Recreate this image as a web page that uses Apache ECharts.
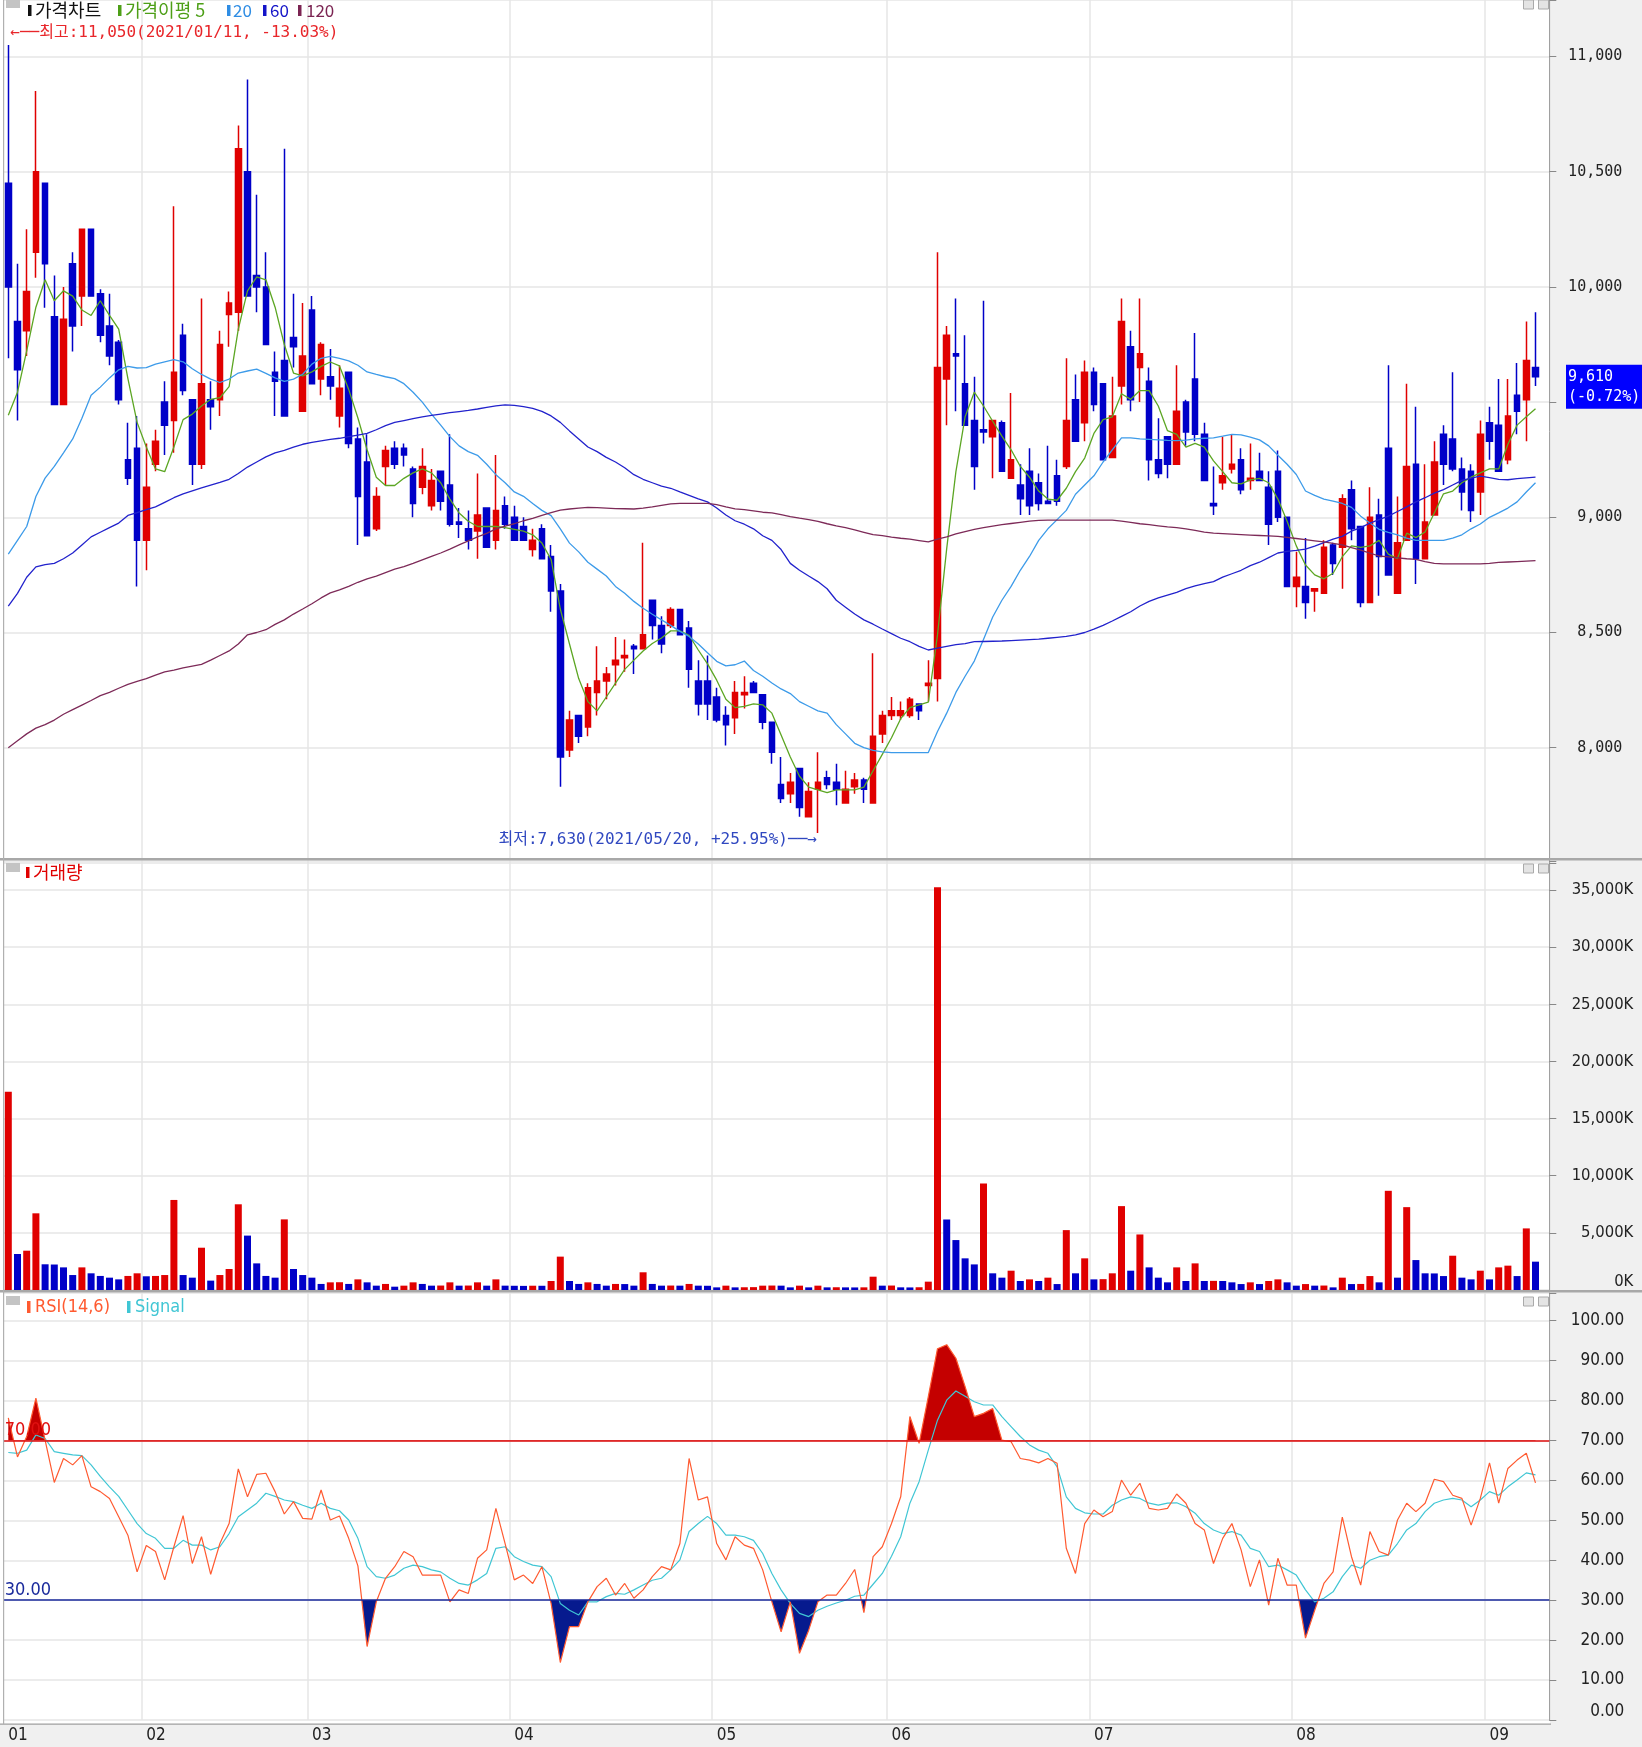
<!DOCTYPE html>
<html>
<head>
<meta charset="utf-8">
<title>가격차트</title>
<script src="https://cdn.jsdelivr.net/npm/echarts@6/dist/echarts.min.js"></script>
<style>
html,body{margin:0;padding:0;background:#fff;}
#c{width:1642px;height:1747px;
background:
 linear-gradient(#f0f0f0,#f0f0f0) 0 1724px/1642px 23px no-repeat,
 linear-gradient(to right,#ffffff 0,#ffffff 1550px,#f0f0f0 1550px) 0 0/1642px 1747px no-repeat;}
</style>
</head>
<body>
<div id="c"></div>
<script>
// ---- trading days (2021) ----
const monthDays = [
 ['01',[11,12,13,14,15,18,19,20,21,22,25,26,27,28,29]],
 ['02',[1,2,3,4,5,8,9,10,15,16,17,18,19,22,23,24,25,26]],
 ['03',[2,3,4,5,8,9,10,11,12,15,16,17,18,19,22,23,24,25,26,29,30,31]],
 ['04',[1,2,5,6,7,8,9,12,13,14,15,16,19,20,21,22,23,26,27,28,29,30]],
 ['05',[3,4,6,7,10,11,12,13,14,17,18,20,21,24,25,26,27,28,31]],
 ['06',[1,2,3,4,7,8,9,10,11,14,15,16,17,18,21,22,23,24,25,28,29,30]],
 ['07',[1,2,5,6,7,8,9,12,13,14,15,16,19,20,21,22,23,26,27,28,29,30]],
 ['08',[2,3,4,5,6,9,10,11,12,13,17,18,19,20,23,24,25,26,27,30,31]],
 ['09',[1,2,3,6,7,8]]
];

// ---- OHLC ----
const open = [10450,9850,9810,10150,10450,9870,9490,10100,9960,10250,
9970,9830,9760,9250,9300,8900,9230,9500,9420,9790,
9510,9230,9510,9510,9880,9890,10500,10050,10000,9630,
9680,9780,9460,9900,9600,9610,9440,9630,9340,9240,
8950,9220,9300,9300,9210,9130,9050,9200,9140,8980,
8950,8940,9040,8900,9050,9000,8960,8860,8950,8830,
8680,7990,8140,8090,8240,8290,8360,8390,8440,8430,
8640,8530,8530,8600,8520,8290,8290,8220,8140,8130,
8230,8280,8230,8110,7840,7800,7910,7700,7820,7870,
7850,7760,7830,7860,7760,8060,8140,8140,8140,8190,
8270,8300,9600,9710,9580,9420,9380,9350,9410,9170,
9140,9200,9150,9070,9180,9220,9510,9410,9630,9580,
9260,9570,9740,9650,9590,9250,9350,9230,9500,9600,
9360,9060,9150,9210,9250,9160,9200,9130,9200,9000,
8700,8700,8680,8670,8880,8870,9120,8960,8630,9010,
9300,8670,8900,9230,8820,9010,9360,9340,9210,9200,
9110,9410,9400,9250,9530,9510,9650];
const high = [11050,10100,10250,10850,10450,10050,10000,10150,10250,10250,
9990,9970,9770,9410,9440,9320,9380,9590,10350,9840,
9510,9950,9590,9810,9980,10700,10900,10400,10150,9720,
10600,9970,9930,9960,9760,9730,9660,9630,9390,9360,
9130,9310,9330,9320,9220,9300,9210,9200,9360,9040,
9030,9190,9040,9270,9090,9050,9000,8950,8970,8880,
8710,8160,8140,8280,8440,8350,8480,8470,8450,8890,
8640,8570,8610,8600,8550,8380,8400,8260,8180,8290,
8310,8290,8230,8110,7960,7890,7910,7850,7980,7900,
7930,7900,7890,7870,8410,8160,8220,8200,8220,8190,
8380,10150,9830,9950,9790,9610,9940,9420,9420,9540,
9230,9300,9190,9310,9250,9690,9620,9680,9650,9580,
9610,9950,9810,9950,9650,9430,9350,9660,9510,9800,
9410,9220,9350,9360,9300,9320,9280,9200,9290,9000,
8850,8910,8690,8900,8890,9100,9160,8960,9130,9080,
9660,9090,9580,9480,9230,9330,9400,9630,9260,9230,
9420,9480,9600,9600,9670,9850,9890];
const low = [9690,9420,9700,10040,9910,9490,9490,9720,9830,9960,
9760,9660,9490,9140,8700,8770,9200,9270,9280,9530,
9140,9210,9380,9440,9740,9810,9960,9890,9750,9440,
9440,9650,9460,9580,9530,9510,9390,9300,8880,8920,
8940,9140,9210,9220,9000,9100,9030,9030,8960,8910,
8860,8820,8870,8860,8950,8900,8900,8830,8820,8590,
7830,7960,8020,8050,8140,8210,8270,8330,8320,8430,
8470,8410,8520,8490,8260,8140,8120,8110,8010,8060,
8170,8240,8080,7930,7760,7760,7700,7700,7630,7820,
7750,7760,7800,7760,7760,8020,8120,8120,8130,8120,
8200,8200,9400,9460,9400,9120,9320,9170,9200,9170,
9010,9010,9030,9060,9050,9210,9330,9330,9460,9250,
9260,9490,9460,9500,9160,9170,9170,9230,9310,9330,
9160,9010,9120,9190,9100,9120,9160,8880,8980,8700,
8610,8560,8590,8670,8750,8690,8900,8610,8630,8660,
8750,8670,8900,8710,8820,9010,9140,9200,9030,8980,
9010,9250,9200,9230,9360,9330,9570];
const close = [10000,9640,9980,10500,10100,9490,9860,9830,10250,9960,
9790,9700,9510,9170,8900,9130,9330,9400,9630,9550,
9230,9580,9480,9750,9930,10600,9960,10000,9750,9590,
9440,9740,9700,9580,9750,9570,9560,9320,9090,8920,
9090,9290,9230,9270,9060,9220,9160,9070,8970,8970,
8900,9010,8870,9030,8970,8900,8900,8900,8820,8680,
7960,8120,8050,8260,8290,8320,8380,8400,8430,8490,
8530,8450,8600,8490,8340,8190,8190,8120,8100,8240,
8240,8240,8110,7980,7780,7850,7740,7810,7850,7840,
7820,7820,7860,7820,8050,8140,8160,8160,8210,8160,
8280,9650,9790,9700,9400,9220,9370,9420,9200,9250,
9080,9050,9060,9060,9070,9420,9330,9630,9490,9250,
9440,9850,9510,9710,9250,9190,9230,9460,9370,9360,
9160,9050,9180,9230,9120,9170,9160,8970,9000,8700,
8740,8630,8690,8870,8800,9080,8950,8630,9000,8830,
8750,8890,9220,8820,8980,9240,9230,9210,9110,9030,
9360,9330,9200,9440,9460,9680,9610];

// ---- moving averages ----
const ma5 = [9443,9543,9722,9912,10031,9940,9983,9960,9900,9876,
9940,9876,9817,9602,9412,9305,9210,9198,9305,9424,
9448,9483,9512,9519,9567,9817,9983,10043,10031,9912,
9750,9626,9614,9631,9655,9674,9657,9555,9431,9293,
9174,9138,9138,9169,9193,9210,9193,9150,9079,9019,
8983,8960,8960,8960,8955,8948,8940,8924,8888,8817,
8602,8450,8300,8200,8160,8220,8280,8340,8380,8420,
8452,8476,8507,8507,8488,8424,8364,8293,8210,8174,
8179,8190,8186,8150,8055,7960,7876,7829,7817,7805,
7817,7817,7817,7829,7900,7971,8043,8126,8174,8186,
8198,8490,8864,9198,9436,9543,9483,9417,9352,9293,
9221,9174,9114,9079,9074,9126,9198,9257,9364,9424,
9436,9536,9512,9550,9550,9483,9376,9360,9305,9321,
9305,9245,9198,9150,9145,9162,9169,9150,9079,8983,
8876,8793,8750,8733,8757,8829,8876,8869,8876,8900,
8840,8821,8931,8912,8936,9019,9102,9114,9150,9174,
9193,9210,9210,9317,9400,9436,9471];
const ma20 = [8840,8900,8960,9090,9170,9221,9280,9340,9430,9530,
9565,9605,9640,9655,9648,9650,9665,9675,9684,9675,
9645,9620,9600,9585,9600,9626,9635,9643,9625,9605,
9590,9600,9621,9665,9690,9698,9690,9679,9660,9631,
9620,9610,9602,9580,9543,9500,9448,9400,9350,9310,
9285,9269,9230,9185,9150,9110,9091,9060,9030,9007,
8950,8888,8850,8805,8775,8745,8700,8670,8635,8605,
8579,8555,8531,8505,8483,8450,8412,8375,8355,8360,
8376,8335,8310,8281,8255,8235,8200,8180,8160,8150,
8100,8060,8019,8000,7988,7982,7979,7979,7979,7979,
7979,8070,8150,8240,8310,8376,8470,8567,8640,8700,
8770,8830,8900,8950,8990,9030,9100,9140,9180,9240,
9293,9345,9345,9340,9338,9336,9334,9333,9335,9340,
9343,9345,9352,9360,9358,9348,9336,9310,9269,9230,
9186,9114,9095,9079,9070,9060,9043,9005,8975,8948,
8935,8924,8910,8900,8900,8900,8900,8910,8924,8950,
8971,9000,9019,9040,9067,9110,9150];
const ma60 = [8614,8670,8740,8785,8795,8800,8820,8845,8880,8915,
8935,8955,8975,9008,9020,9033,9045,9065,9085,9102,
9115,9128,9140,9152,9165,9190,9218,9240,9262,9280,
9290,9305,9317,9325,9332,9338,9343,9350,9357,9364,
9380,9398,9412,9420,9428,9436,9442,9448,9454,9459,
9464,9470,9477,9484,9488,9486,9480,9473,9460,9440,
9412,9375,9340,9305,9285,9260,9240,9215,9185,9165,
9150,9135,9126,9110,9095,9080,9067,9040,9010,8985,
8970,8950,8920,8900,8860,8800,8770,8745,8721,8690,
8640,8610,8580,8555,8536,8515,8495,8475,8460,8440,
8424,8432,8440,8447,8452,8460,8461,8462,8463,8465,
8467,8469,8471,8475,8479,8483,8490,8500,8515,8531,
8550,8570,8590,8615,8635,8650,8662,8674,8690,8702,
8712,8721,8740,8755,8770,8790,8805,8825,8845,8852,
8856,8862,8875,8890,8905,8917,8940,8955,8975,8990,
9005,9025,9045,9067,9085,9105,9120,9140,9160,9170,
9179,9172,9165,9163,9168,9171,9174];
const ma120 = [8000,8030,8060,8085,8100,8120,8145,8165,8185,8205,
8226,8240,8258,8275,8288,8300,8315,8329,8337,8346,
8354,8362,8380,8400,8420,8450,8490,8500,8512,8535,
8555,8580,8602,8625,8650,8672,8685,8700,8718,8733,
8745,8760,8775,8786,8800,8815,8830,8845,8862,8880,
8898,8915,8930,8950,8962,8972,8985,8995,9008,9020,
9031,9036,9040,9043,9042,9040,9038,9037,9036,9040,
9045,9052,9058,9060,9060,9060,9060,9055,9045,9037,
9033,9028,9022,9019,9012,9003,8996,8990,8982,8972,
8963,8955,8945,8935,8925,8920,8914,8909,8905,8899,
8893,8905,8915,8928,8938,8948,8955,8962,8968,8973,
8978,8983,8987,8988,8988,8988,8988,8988,8988,8988,
8988,8983,8978,8972,8968,8963,8958,8955,8950,8943,
8936,8931,8929,8927,8925,8923,8921,8919,8917,8913,
8908,8903,8898,8893,8887,8880,8868,8857,8845,8832,
8828,8824,8820,8817,8808,8800,8798,8798,8798,8798,
8798,8800,8804,8806,8808,8810,8812];

// ---- volume (thousand shares) ----
const volume = [17350,3150,3440,6710,2250,2230,1980,1310,1980,1460,
1230,1080,930,1230,1460,1200,1230,1310,7880,1310,
1080,3700,820,1310,1840,7500,4760,2330,1230,1080,
6180,1840,1310,1080,530,670,680,530,930,670,
380,530,290,380,670,530,380,390,670,380,
390,670,380,930,380,370,360,375,370,790,
2920,790,530,670,530,380,530,520,380,1550,
530,380,390,380,530,380,370,230,380,230,
240,250,380,390,380,230,380,230,380,230,
240,230,225,233,1165,380,390,233,225,240,
730,35240,6170,4370,2770,2240,9320,1460,1080,1690,
790,930,790,1080,520,5240,1460,2770,930,950,
1460,7340,1690,4860,1980,1080,670,1980,790,2330,
790,800,790,670,520,670,520,790,930,670,
380,520,380,390,230,1080,520,530,1220,670,
8680,1080,7250,2620,1460,1450,1220,3000,1080,930,
1690,930,1980,2130,1220,5390,2480];

// ---- RSI(14) and signal(6) ----
const rsi = [75.7,65.9,71.0,80.6,70.1,59.5,65.5,63.9,66.2,58.4,
57.2,55.5,50.9,46.3,37.1,43.7,42.2,35.1,43.4,51.2,
39.2,45.9,36.5,44.2,49.2,62.9,55.9,61.5,61.8,57.2,
51.6,54.7,50.5,50.3,57.6,50.1,51.1,45.5,38.6,18.4,
29.6,35.5,38.4,42.2,40.9,36.3,36.3,36.3,29.6,32.6,
31.7,40.5,42.6,53.0,44.2,35.1,36.3,34.2,38.4,29.2,
14.4,23.4,23.4,29.6,33.4,35.5,31.3,34.2,30.5,32.6,
35.9,38.4,37.6,44.2,65.5,55.1,55.9,44.2,40.1,45.9,
43.8,43.0,37.6,29.6,22.1,29.6,16.7,22.5,29.6,31.3,
31.3,34.2,37.7,26.9,40.9,43.4,49.2,55.9,76.0,69.3,
81.0,93.0,94.0,90.6,83.5,76.0,76.8,78.0,70.1,69.7,
65.5,65.1,64.4,65.5,64.3,43.0,36.7,49.2,52.6,50.9,
52.2,60.1,56.3,59.3,53.0,52.6,53.0,56.6,54.3,49.2,
47.6,39.2,45.5,49.2,42.6,33.4,40.1,28.8,40.5,33.8,
33.8,20.5,27.5,34.2,37.1,50.8,40.9,33.8,47.2,42.2,
41.3,50.1,54.3,52.2,54.3,60.3,59.7,56.3,55.5,48.8,
55.5,64.4,54.3,63.0,65.1,66.8,59.4];
const signal = [67.0,66.8,67.6,71.4,70.5,67.2,66.8,66.4,66.2,63.9,
61.0,58.4,56.0,52.6,49.2,46.7,45.5,43.0,43.0,45.0,
43.8,43.8,42.6,43.4,46.7,50.9,52.6,54.3,56.8,56.0,
55.1,54.7,53.8,53.0,54.3,53.0,52.4,50.1,45.5,38.4,
35.9,35.5,36.3,38.0,38.8,38.4,37.6,37.1,35.5,34.2,
33.8,35.1,36.7,43.0,43.4,40.9,39.7,38.8,38.4,35.9,
29.2,27.5,26.3,29.6,29.6,30.9,31.7,31.5,32.6,33.8,
35.0,35.5,37.6,40.1,47.2,49.2,51.0,49.2,46.3,46.3,
45.9,45.0,41.7,36.7,32.6,29.2,26.7,25.9,27.5,28.5,
29.3,30.0,31.0,31.3,34.0,36.7,41.0,45.9,54.3,59.7,
67.6,75.1,80.1,82.4,81.1,79.7,78.9,78.9,76.0,73.5,
71.0,68.9,67.6,66.8,63.4,55.9,53.0,51.9,51.6,51.6,
53.8,55.1,55.9,55.5,54.3,53.8,54.3,54.4,53.4,51.8,
49.2,47.6,46.7,47.2,46.3,43.0,42.2,38.4,38.8,37.6,
36.3,32.6,29.6,30.5,32.1,35.9,38.8,38.0,40.0,40.9,
41.3,44.2,47.6,49.2,52.2,54.3,55.1,55.5,55.1,53.4,
55.1,57.2,56.3,58.4,60.1,61.9,61.4];

const rsiLevels = [70, 30];
const priceLabelRange = [8000, 11000];
const volLabelMax = 35000;

// ---- derived category info ----
const dates = [];
const monthStart = new Set();
monthDays.forEach(([m, days]) => {
  monthStart.add(dates.length);
  days.forEach(d => dates.push('2021/' + m + '/' + String(d).padStart(2, '0')));
});
const cats = dates.concat(['']);
const N = close.length;

const UP = '#e00000', DN = '#0000c8';
const KR = '"Noto Sans CJK KR", sans-serif';
const MONO = '"DejaVu Sans Mono", "Noto Sans CJK KR", monospace';
const COND = '"DejaVu Sans Condensed", "Liberation Sans Narrow", "DejaVu Sans", sans-serif';
const GRIDC = '#e6e6e6';
const fmt = v => Number(v).toLocaleString('en-US');

const gridL = 3.7, gridR = 92.7;

function xAx(gi, showLabel) {
  return {
    type: 'category', gridIndex: gi, data: cats, boundaryGap: true,
    axisLine: { show: false }, axisTick: { show: false },
    axisLabel: showLabel ? {
      show: true, interval: (i) => monthStart.has(i),
      formatter: (v) => v ? v.slice(5, 7) : '', align: 'left', margin: 7,
      fontFamily: COND, fontSize: 17, color: '#222'
    } : { show: false },
    splitLine: { show: true, interval: (i) => monthStart.has(i) && i > 0, lineStyle: { color: GRIDC, width: 1.5 } }
  };
}

const candleData = open.map((o, i) => [o, close[i], low[i], high[i]]);
const volData = volume.map((v, i) => ({ value: v, itemStyle: { color: (i === 0 || v > volume[i - 1]) ? UP : DN } }));

function maSeries(name, data, color) {
  return { name, type: 'line', xAxisIndex: 0, yAxisIndex: 0, data, symbol: 'none', silent: true,
    lineStyle: { width: 1.3, color }, z: 3 };
}

const option = {
  animation: false,
  backgroundColor: 'transparent',
  grid: [
    { left: gridL, right: gridR, top: 0, height: 862.9 },
    { left: gridL, right: gridR, top: 861, height: 429 },
    { left: gridL, right: gridR, top: 1292.8, height: 427.2 }
  ],
  xAxis: [xAx(0, false), xAx(1, false), xAx(2, true)],
  yAxis: [
    { type: 'value', gridIndex: 0, position: 'right', min: 7500, max: 11245.2, interval: 500,
      axisLine: { show: true, lineStyle: { color: '#a0a0a0' } },
      axisTick: { show: true, length: 7, lineStyle: { color: '#888' } },
      axisLabel: { margin: 73, align: 'right', fontFamily: MONO, fontSize: 15, color: '#222',
        formatter: v => (v >= priceLabelRange[0] && v <= priceLabelRange[1] && v % 500 === 0) ? fmt(v) : '' },
      splitLine: { lineStyle: { color: GRIDC, width: 1.5 } } },
    { type: 'value', gridIndex: 1, position: 'right', min: 0, max: 37540, interval: 5000,
      axisLine: { show: true, lineStyle: { color: '#a0a0a0' } },
      axisTick: { show: true, length: 7, lineStyle: { color: '#888' } },
      axisLabel: { margin: 84, align: 'right', fontFamily: COND, fontSize: 16.5, color: '#222',
        verticalAlignMinLabel: 'bottom',
        formatter: v => (v % 5000 === 0 && v <= volLabelMax) ? fmt(v) + 'K' : '' },
      splitLine: { lineStyle: { color: GRIDC, width: 1.5 } } },
    { type: 'value', gridIndex: 2, position: 'right', min: 0, max: 107, interval: 10,
      axisLine: { show: true, lineStyle: { color: '#a0a0a0' } },
      axisTick: { show: true, length: 7, lineStyle: { color: '#888' } },
      axisLabel: { margin: 75, align: 'right', fontFamily: COND, fontSize: 17, color: '#222',
        verticalAlignMinLabel: 'bottom',
        formatter: v => (v % 10 === 0 && v <= 100) ? v.toFixed(2) : '' },
      splitLine: { lineStyle: { color: GRIDC, width: 1.5 } } }
  ],
  visualMap: [{
    type: 'piecewise', show: false, seriesIndex: 6, dimension: 1,
    pieces: [
      { gt: rsiLevels[0], color: '#c40000' },
      { lt: rsiLevels[1], color: '#061a8e' },
      { gte: rsiLevels[1], lte: rsiLevels[0], color: 'rgba(255,255,255,0)' }
    ]
  }],
  series: [
    { name: '가격차트', type: 'candlestick', xAxisIndex: 0, yAxisIndex: 0, data: candleData,
      barWidth: 6, silent: true,
      itemStyle: { color: UP, color0: DN, borderColor: UP, borderColor0: DN, borderWidth: 1.5 } },
    maSeries('5', ma5, '#5ca623'),
    maSeries('20', ma20, '#3d9be9'),
    maSeries('60', ma60, '#2222cc'),
    maSeries('120', ma120, '#7d2a58'),
    { name: '거래량', type: 'bar', xAxisIndex: 1, yAxisIndex: 1, data: volData, barWidth: 7, silent: true },
    { name: 'rsiFill', type: 'line', xAxisIndex: 2, yAxisIndex: 2, data: rsi, symbol: 'none', silent: true,
      lineStyle: { width: 0 }, areaStyle: { origin: rsiLevels[0], opacity: 1 }, z: 1 },
    { name: 'RSI', type: 'line', xAxisIndex: 2, yAxisIndex: 2, data: rsi, symbol: 'none', silent: true,
      lineStyle: { width: 1.2, color: '#ff5a30' }, z: 4,
      markLine: { silent: true, symbol: ['none', 'none'], animation: false,
        data: [
          { yAxis: rsiLevels[0], lineStyle: { color: '#e01010', width: 1.6, type: 'solid' },
            label: { color: '#e01010' } },
          { yAxis: rsiLevels[1], lineStyle: { color: '#1a2a9c', width: 1.6, type: 'solid' },
            label: { color: '#1a2a9c' } }
        ],
        label: { show: true, position: 'insideStartTop', distance: [1, 1], fontFamily: COND, fontSize: 18,
          formatter: p => Number(p.value).toFixed(2) } } },
    { name: 'Signal', type: 'line', xAxisIndex: 2, yAxisIndex: 2, data: signal, symbol: 'none', silent: true,
      lineStyle: { width: 1.2, color: '#40c6d4' }, z: 3 }
  ]
};

const chart = echarts.init(document.getElementById('c'), null, { renderer: 'canvas' });
chart.setOption(option);

// ---- annotations ----
let hiIdx = 0, loIdx = 0;
for (let i = 0; i < N; i++) { if (high[i] > high[hiIdx]) hiIdx = i; if (low[i] < low[loIdx]) loIdx = i; }
const last = close[N - 1], prev = close[N - 2];
const pct = (a) => (a >= 0 ? '+' : '') + a.toFixed(2) + '%';
const hiText = '←──최고:' + fmt(high[hiIdx]) + '(' + dates[hiIdx] + ', ' + pct((last / high[hiIdx] - 1) * 100) + ')';
const loText = '최저:' + fmt(low[loIdx]) + '(' + dates[loIdx] + ', ' + pct((last / low[loIdx] - 1) * 100) + ')──→';
const hiPx = chart.convertToPixel({ xAxisIndex: 0, yAxisIndex: 0 }, [hiIdx, high[hiIdx]]);
const loPx = chart.convertToPixel({ xAxisIndex: 0, yAxisIndex: 0 }, [loIdx, low[loIdx]]);
const lastPx = chart.convertToPixel({ xAxisIndex: 0, yAxisIndex: 0 }, [N - 1, last]);
const lastText = fmt(last) + '\n(' + ((last / prev - 1) * 100).toFixed(2) + '%)';

function rect(x, y, w, h, fill, stroke) {
  return { type: 'rect', z: 100, silent: true, shape: { x, y, width: w, height: h },
    style: { fill, stroke: stroke || null, lineWidth: stroke ? 1 : 0 } };
}
function txt(x, y, text, fill, font, align) {
  return { type: 'text', z: 101, silent: true, x, y,
    style: { text, fill, font, align: align || 'left', verticalAlign: 'middle' } };
}
function icons(y) {
  return [rect(1523.5, y, 10, 9, '#e4e4e4', '#aaaaaa'), rect(1538.5, y, 10, 9, '#e4e4e4', '#aaaaaa')];
}

const g = [];
// separators and borders
g.push(rect(0, 858, 1642, 2.5, '#a8a8a8'));
g.push(rect(0, 1290, 1642, 2.5, '#a8a8a8'));
g.push(rect(0, 1723.5, 1551, 1.2, '#a0a0a0'));
g.push(rect(3, 0, 1.2, 1724, '#b0b0b0'));
// panel handles
g.push(rect(6, -1, 14, 9, '#c4c4c4'));
g.push(rect(6, 863, 14, 9, '#c4c4c4'));
g.push(rect(6, 1296, 14, 9, '#c4c4c4'));
g.push(...icons(0), ...icons(864), ...icons(1297));
// price header legend
g.push(rect(28, 5, 3.5, 11, '#111'));
g.push(txt(35, 10.5, '가격차트', '#111', '18px ' + KR));
g.push(rect(118, 5, 3.5, 11, '#4d9f17'));
g.push(txt(125, 10.5, '가격이평 5', '#4d9f17', '18px ' + KR));
g.push(rect(227, 5, 3.5, 11, '#2f8de4'));
g.push(txt(233, 10.5, '20', '#2f8de4', '17px ' + KR));
g.push(rect(263, 5, 3.5, 11, '#1414c8'));
g.push(txt(270, 10.5, '60', '#1414c8', '17px ' + KR));
g.push(rect(298, 5, 3.5, 11, '#7b2452'));
g.push(txt(306, 10.5, '120', '#7b2452', '17px ' + KR));
g.push(txt(hiPx[0] + 2, 33, hiText, '#e8262a', '16px ' + MONO));
g.push(txt(loPx[0] - 1, 840, loText, '#3048c0', '16px ' + MONO, 'right'));
// last price box
g.push({ type: 'text', z: 102, silent: true, x: 1566, y: lastPx[1] - 12,
  style: { text: lastText, fill: '#ffffff', font: '15px ' + MONO, backgroundColor: '#0000ff',
    padding: [2, 8, 2, 2], lineHeight: 20, align: 'left', verticalAlign: 'top' } });
// volume header
g.push(rect(26, 867, 3.5, 11, '#e00000'));
g.push(txt(33, 872.5, '거래량', '#e00000', '18px ' + KR));
// RSI header
g.push(rect(27, 1301, 3.5, 12, '#ff5a30'));
g.push(txt(35, 1307, 'RSI(14,6)', '#ff5a30', '18px ' + COND));
g.push(rect(127, 1301, 3.5, 12, '#40c6d4'));
g.push(txt(135, 1307, 'Signal', '#40c6d4', '18px ' + COND));

chart.setOption({ graphic: g });
</script>
</body>
</html>
